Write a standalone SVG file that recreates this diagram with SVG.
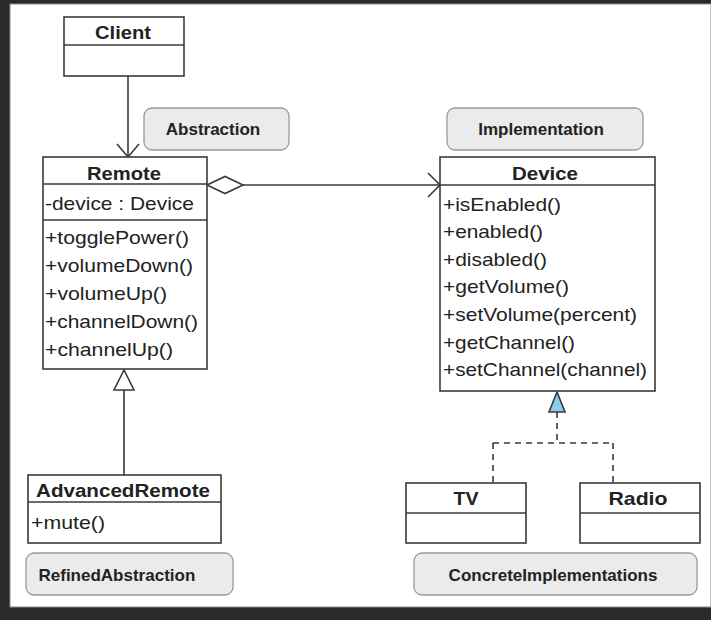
<svg xmlns="http://www.w3.org/2000/svg" width="711" height="620" viewBox="0 0 711 620">
  <style>
    .cls { fill: #ffffff; stroke: #3a3a3a; stroke-width: 1.6; }
    .sep { stroke: #3a3a3a; stroke-width: 1.6; fill: none; }
    .note { fill: #ebebeb; stroke: #9a9a9a; stroke-width: 1.3; }
    .name { font-family: "Liberation Sans", Arial, sans-serif; font-weight: bold; font-size: 18.5px; fill: #222; }
    .mem { font-family: "Liberation Sans", Arial, sans-serif; font-size: 18.5px; fill: #222; }
    .ntxt { font-family: "Liberation Sans", Arial, sans-serif; font-weight: bold; font-size: 17px; fill: #222; }
    .line { stroke: #3a3a3a; stroke-width: 1.6; fill: none; }
    .dash { stroke: #3a3a3a; stroke-width: 1.6; fill: none; stroke-dasharray: 6 5; }
  </style>

  <!-- frame -->
  <rect x="0" y="0" width="711" height="620" fill="#2a2a2a"/>
  <rect x="10" y="4" width="701" height="603" fill="#ffffff" stroke="#8a8a8a" stroke-width="1"/>

  <!-- connectors -->
  <g id="connectors">
    <!-- Client uses Remote -->
    <line class="line" x1="128" y1="76" x2="128" y2="157"/>
    <polyline class="line" points="117,144 128,157 139,144"/>
    <!-- Remote aggregates Device -->
    <polygon class="line" fill="#ffffff" points="207,185 225,176.5 243,185 225,193.5"/>
    <line class="line" x1="243" y1="185" x2="440" y2="185"/>
    <polyline class="line" points="428,173 440,185 428,197"/>
    <!-- AdvancedRemote extends Remote -->
    <line class="line" x1="124" y1="390" x2="124" y2="475"/>
    <polygon class="line" style="fill:#ffffff" points="124,370 114,390 134,390"/>
    <!-- TV / Radio implement Device -->
    <line class="dash" x1="557" y1="412" x2="557" y2="443"/>
    <line class="dash" x1="493" y1="443" x2="613" y2="443"/>
    <line class="dash" x1="493" y1="443" x2="493" y2="483"/>
    <line class="dash" x1="613" y1="443" x2="613" y2="483"/>
    <polygon class="line" style="fill:#8ccbea" points="557,392 549,412 565,412"/>
  </g>

  <!-- Client -->
  <g id="client">
    <rect class="cls" x="64" y="17" width="120" height="59"/>
    <line class="sep" x1="64" y1="45" x2="184" y2="45"/>
    <text class="name" x="123" y="39" text-anchor="middle" textLength="56" lengthAdjust="spacingAndGlyphs">Client</text>
  </g>

  <!-- notes -->
  <g id="note-abstraction">
    <rect class="note" x="144" y="108" width="145" height="42" rx="8"/>
    <text class="ntxt" x="213" y="135" text-anchor="middle">Abstraction</text>
  </g>
  <g id="note-implementation">
    <rect class="note" x="447" y="108" width="196" height="42" rx="8"/>
    <text class="ntxt" x="541" y="135" text-anchor="middle">Implementation</text>
  </g>

  <!-- Remote -->
  <g id="remote">
    <rect class="cls" x="43" y="157" width="164" height="212"/>
    <line class="sep" x1="43" y1="184" x2="207" y2="184"/>
    <line class="sep" x1="43" y1="220" x2="207" y2="220"/>
    <text class="name" x="124" y="180" text-anchor="middle" textLength="74" lengthAdjust="spacingAndGlyphs">Remote</text>
    <text class="mem" x="45" y="210" textLength="149" lengthAdjust="spacingAndGlyphs">-device : Device</text>
    <text class="mem" x="45" y="243.5" textLength="144" lengthAdjust="spacingAndGlyphs">+togglePower()</text>
    <text class="mem" x="45" y="271.7" textLength="148" lengthAdjust="spacingAndGlyphs">+volumeDown()</text>
    <text class="mem" x="45" y="299.9" textLength="122" lengthAdjust="spacingAndGlyphs">+volumeUp()</text>
    <text class="mem" x="45" y="328.1" textLength="153" lengthAdjust="spacingAndGlyphs">+channelDown()</text>
    <text class="mem" x="45" y="356.3" textLength="128" lengthAdjust="spacingAndGlyphs">+channelUp()</text>
  </g>

  <!-- Device -->
  <g id="device">
    <rect class="cls" x="440" y="157" width="215" height="234"/>
    <line class="sep" x1="440" y1="185" x2="655" y2="185"/>
    <text class="name" x="545" y="180" text-anchor="middle" textLength="66" lengthAdjust="spacingAndGlyphs">Device</text>
    <text class="mem" x="443" y="210.5" textLength="118" lengthAdjust="spacingAndGlyphs">+isEnabled()</text>
    <text class="mem" x="443" y="238.1" textLength="100" lengthAdjust="spacingAndGlyphs">+enabled()</text>
    <text class="mem" x="443" y="265.7" textLength="104" lengthAdjust="spacingAndGlyphs">+disabled()</text>
    <text class="mem" x="443" y="293.3" textLength="126" lengthAdjust="spacingAndGlyphs">+getVolume()</text>
    <text class="mem" x="443" y="320.9" textLength="194" lengthAdjust="spacingAndGlyphs">+setVolume(percent)</text>
    <text class="mem" x="443" y="348.5" textLength="132" lengthAdjust="spacingAndGlyphs">+getChannel()</text>
    <text class="mem" x="443" y="376.1" textLength="204" lengthAdjust="spacingAndGlyphs">+setChannel(channel)</text>
  </g>

  <!-- AdvancedRemote -->
  <g id="advanced-remote">
    <rect class="cls" x="28" y="475" width="193" height="68"/>
    <line class="sep" x1="28" y1="502" x2="221" y2="502"/>
    <text class="name" x="123" y="497" text-anchor="middle" textLength="174" lengthAdjust="spacingAndGlyphs">AdvancedRemote</text>
    <text class="mem" x="31" y="529" textLength="74" lengthAdjust="spacingAndGlyphs">+mute()</text>
  </g>

  <!-- TV -->
  <g id="tv">
    <rect class="cls" x="406" y="483" width="120" height="60"/>
    <line class="sep" x1="406" y1="513" x2="526" y2="513"/>
    <text class="name" x="466" y="505" text-anchor="middle" textLength="25" lengthAdjust="spacingAndGlyphs">TV</text>
  </g>

  <!-- Radio -->
  <g id="radio">
    <rect class="cls" x="580" y="483" width="120" height="60"/>
    <line class="sep" x1="580" y1="513" x2="700" y2="513"/>
    <text class="name" x="638" y="505" text-anchor="middle" textLength="59" lengthAdjust="spacingAndGlyphs">Radio</text>
  </g>

  <!-- bottom notes -->
  <g id="note-refined">
    <rect class="note" x="26" y="553" width="207" height="42" rx="8"/>
    <text class="ntxt" x="38.5" y="581">RefinedAbstraction</text>
  </g>
  <g id="note-concrete">
    <rect class="note" x="414" y="553" width="283" height="42" rx="8"/>
    <text class="ntxt" x="553" y="581" text-anchor="middle">ConcreteImplementations</text>
  </g>
</svg>
